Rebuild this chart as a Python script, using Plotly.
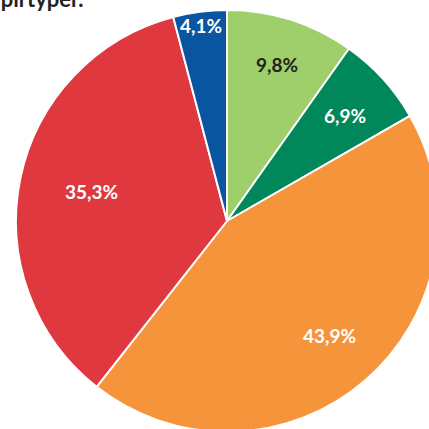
import plotly.graph_objects as go

categories = ["A", "B", "C", "D", "E"]
values = [9.8, 6.9, 43.9, 35.3, 4.1]
colors = ["#9ecf6b", "#00875a", "#f5943a", "#e0383f", "#0a55a0"]
text_colors = ["#222222", "white", "white", "white", "white"]
labels_text = [f"{v:.1f}".replace(".", ",") + "%" for v in values]

W, H = 440, 440
cx, cy, R = 227, 221, 211
# label centre positions in pixels (layout only)
label_px = [(277, 65), (345, 115), (329, 335), (91, 191), (201, 26)]

fig = go.Figure(go.Pie(
    labels=categories,
    values=values,
    textinfo="none",
    sort=False,
    direction="clockwise",
    rotation=0,
    marker=dict(colors=colors, line=dict(color="white", width=2)),
    hoverinfo="skip",
    domain=dict(x=[(cx - R) / W, (cx + R) / W], y=[(H - cy - R) / H, (H - cy + R) / H]),
))

for txt, col, (px, py) in zip(labels_text, text_colors, label_px):
    fig.add_annotation(
        text=txt, xref="paper", yref="paper", x=px / W, y=(H - py) / H,
        xanchor="center", yanchor="middle", showarrow=False,
        font=dict(family="Lato", size=19, color=col, weight="bold"),
    )

fig.add_annotation(
    text="<b>papirtyper.</b>", xref="paper", yref="paper",
    x=86 / W, y=(H - 14) / H, xanchor="right", yanchor="bottom",
    showarrow=False, font=dict(family="Lato", size=22, color="#222222"),
)

fig.update_layout(
    width=W, height=H, margin=dict(l=0, r=0, t=0, b=0),
    showlegend=False, paper_bgcolor="white", plot_bgcolor="white",
)

fig.write_html(
    "out.html",
    config={"displayModeBar": False},
    post_script="document.body.style.margin='0';document.body.style.overflow='hidden';document.documentElement.style.overflow='hidden';",
)
